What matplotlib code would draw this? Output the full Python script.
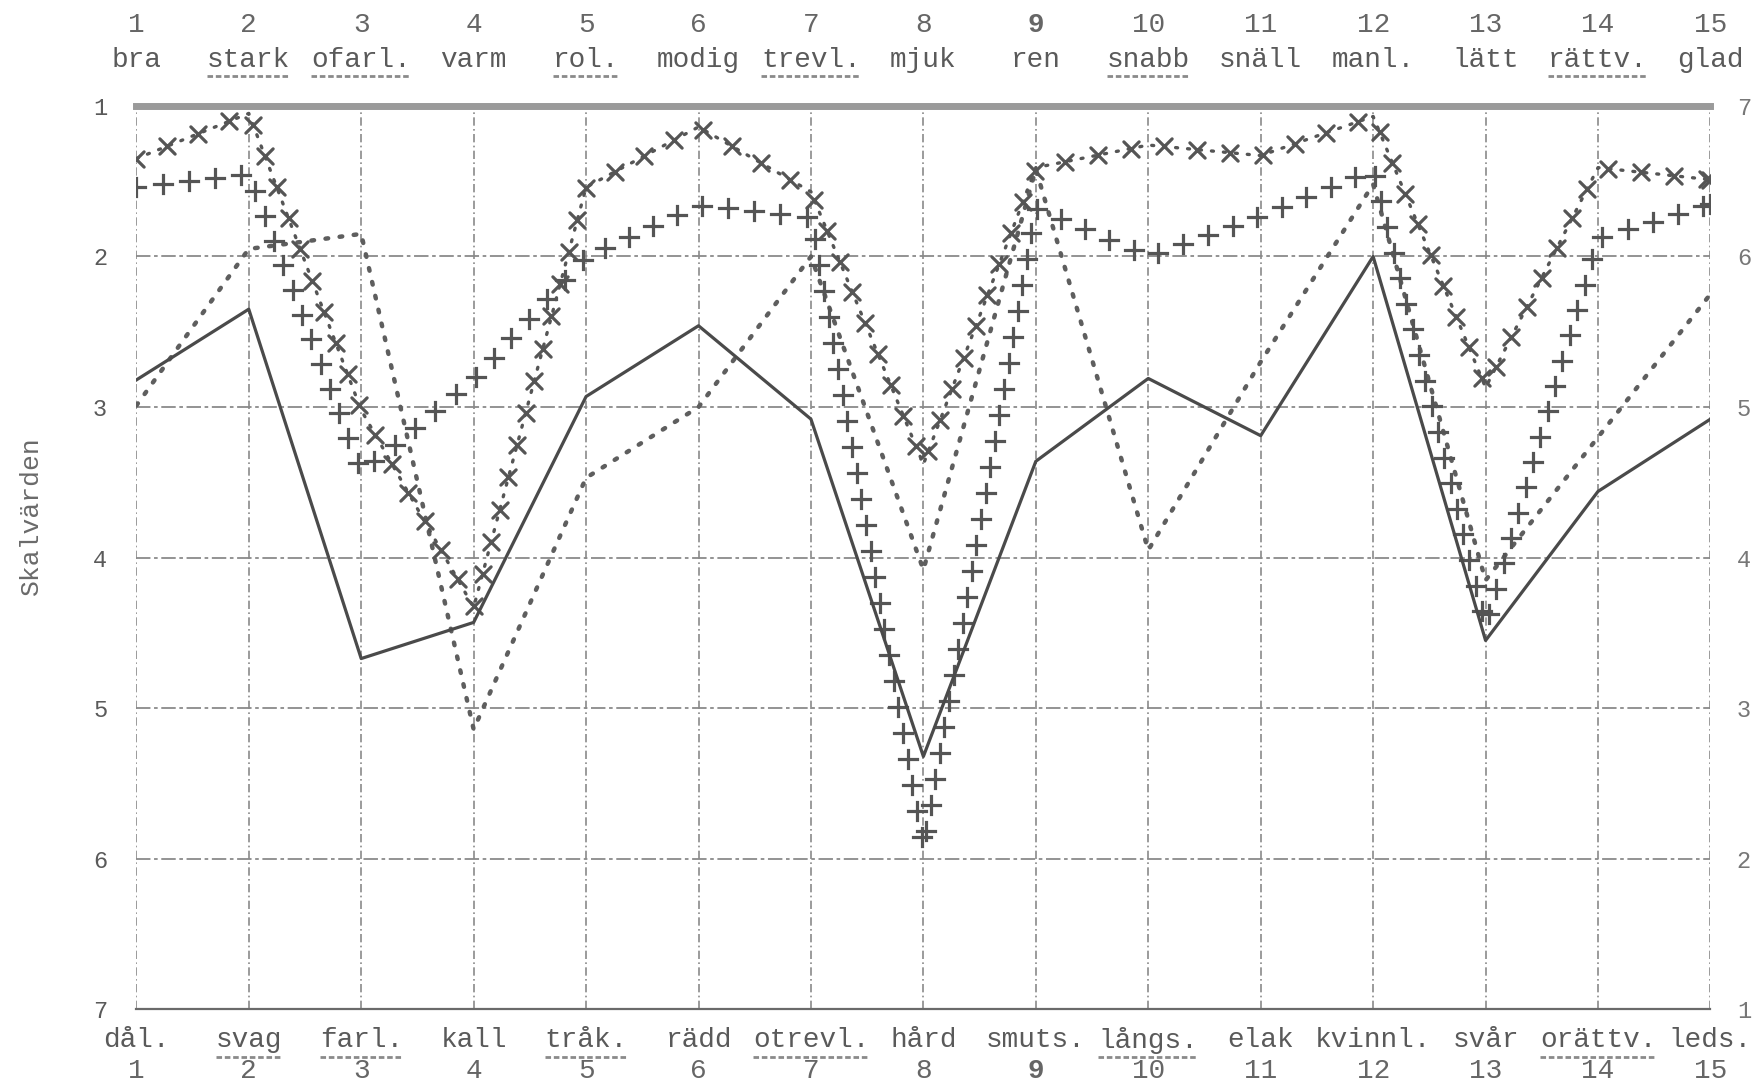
import numpy as np
import matplotlib
matplotlib.use("Agg")
import matplotlib.pyplot as plt
import matplotlib.transforms as mtransforms
from matplotlib.markers import MarkerStyle
from matplotlib.patheffects import AbstractPathEffect, Normal
from matplotlib.path import Path

# skalor 1-15, ord i överkant (7) och nederkant (1)
items = list(range(1, 16))
top_words = ["bra", "stark", "ofarl.", "varm", "rol.", "modig", "trevl.", "mjuk",
             "ren", "snabb", "snäll", "manl.", "lätt", "rättv.", "glad"]
bottom_words = ["dål.", "svag", "farl.", "kall", "tråk.", "rädd", "otrevl.", "hård",
                "smuts.", "långs.", "elak", "kvinnl.", "svår", "orättv.", "leds."]
underlined = [2, 3, 5, 7, 10, 14]

left_ticks = [1, 2, 3, 4, 5, 6, 7]
right_ticks = [7, 6, 5, 4, 3, 2, 1]

# profiler (skalvärden)
solid = [2.82, 2.35, 4.67, 4.43, 2.93, 2.46, 3.08, 5.32, 3.36, 2.81, 3.19, 2.00, 4.55, 3.56, 3.08]
dotted = [2.99, 1.95, 1.85, 5.14, 3.47, 3.00, 2.00, 4.08, 1.42, 3.95, 2.70, 1.52, 4.15, 3.20, 2.25]
crosses_x = [1.35, 1.05, 3.02, 4.33, 1.54, 1.14, 1.57, 3.38, 1.41, 1.26, 1.33, 1.07, 2.87, 1.41, 1.49]
crosses_plus = [1.54, 1.45, 3.43, 2.82, 2.00, 1.66, 1.74, 5.92, 1.68, 2.00, 1.73, 1.42, 4.45, 1.88, 1.65]

ink = "#5a5a5a"
mono = ["Liberation Mono", "DejaVu Sans Mono"]


class TypedMarks(AbstractPathEffect):
    """line style: repeats a typewriter sign along the drawn line"""

    def __init__(self, marker, step_pt, size_pt, lw):
        super().__init__()
        self.marker = MarkerStyle(marker)
        self.step_pt = step_pt
        self.size_pt = size_pt
        self.lw = lw

    def draw_path(self, renderer, gc, tpath, affine, rgbFace=None):
        xy = affine.transform(tpath.vertices)
        step = renderer.points_to_pixels(self.step_pt)
        pts = []
        carry = 0.0
        for (x0, y0), (x1, y1) in zip(xy[:-1], xy[1:]):
            seg = np.hypot(x1 - x0, y1 - y0)
            d = carry
            while d <= seg:
                t = d / seg if seg else 0
                pts.append((x0 + t * (x1 - x0), y0 + t * (y1 - y0)))
                d += step
            carry = d - seg
        pts.append(tuple(xy[-1]))
        gc0 = renderer.new_gc()
        gc0.copy_properties(gc)
        gc0.set_dashes(0, None)
        gc0.set_linewidth(self.lw)
        mtrans = self.marker.get_transform() + mtransforms.Affine2D().scale(
            renderer.points_to_pixels(self.size_pt))
        renderer.draw_markers(gc0, self.marker.get_path(), mtrans,
                              Path(np.array(pts)), mtransforms.IdentityTransform())
        gc0.restore()


fig = plt.figure(figsize=(17.59, 10.86), dpi=100)
ax = fig.add_axes([0.0775, 0.0705, 0.8949, 0.8320])
ax.set_xlim(1, 15)
ax.set_ylim(7, 1)

# rutnät
for x in items:
    ax.axvline(x, color="#8a8a8a", lw=1.2, ls=(0, (5, 2, 1, 2)), zorder=1)
for y in left_ticks:
    ax.axhline(y, color="#8a8a8a", lw=1.3, ls=(0, (8, 2, 2, 2)), zorder=1)

for s in ["left", "right"]:
    ax.spines[s].set_visible(False)
ax.spines["top"].set_color("#9a9a9a")
ax.spines["top"].set_linewidth(5)
ax.spines["bottom"].set_color("#6a6a6a")
ax.spines["bottom"].set_linewidth(1.6)

ax.plot(items, solid, color="#4a4a4a", lw=2.3, zorder=4)
ax.plot(items, dotted, color="#5e5e5e", lw=3.2, ls=(0, (0.6, 2.6)),
        dash_capstyle="round", zorder=3)
ax.plot(items, crosses_x, color="#555555", lw=2.4, ls=(0, (0.6, 3.0)),
        dash_capstyle="round", zorder=3,
        path_effects=[TypedMarks("x", 24, 11, 2.3), Normal()])
ax.plot(items, crosses_plus, color="#555555", lw=1,
        path_effects=[TypedMarks("+", 19, 13, 2.3)], zorder=3)

# skalvärden vänster och höger
ax.set_xticks([])
ax.set_yticks(left_ticks)
ax.set_yticklabels([str(v) for v in left_ticks], fontsize=17, color=ink,
                   family=mono)
ax.tick_params(axis="y", length=0, pad=21)
sec = ax.secondary_yaxis("right", functions=(lambda y: 8 - y, lambda y: 8 - y))
sec.set_yticks(right_ticks)
sec.set_yticklabels([str(v) for v in right_ticks], fontsize=17, color="#777777",
                    family=mono)
sec.tick_params(length=0, pad=19)
sec.spines["right"].set_visible(False)

fig.text(31 / 1759, 1 - 516 / 1086, "Skalvärden", rotation=90, ha="center",
         va="center", fontsize=19, color="#6a6a6a", family=mono)

tr = mtransforms.blended_transform_factory(ax.transData, fig.transFigure)
labels = []
for i, tw, bw in zip(items, top_words, bottom_words):
    w = "bold" if i == 9 else "normal"
    ax.text(i, 0.977, str(i), transform=tr, ha="center", va="center",
            fontsize=20, color="#666666", family=mono, weight=w)
    t1 = ax.text(i, 0.945, tw, transform=tr, ha="center", va="center",
                 fontsize=20, color=ink, family=mono)
    t2 = ax.text(i, 0.042, bw, transform=tr, ha="center", va="center",
                 fontsize=20, color=ink, family=mono)
    ax.text(i, 0.0135, str(i), transform=tr, ha="center", va="center",
            fontsize=20, color="#666666", family=mono, weight=w)
    if i in underlined:
        labels.append(t1)
        labels.append(t2)

fig.canvas.draw()
inv = fig.transFigure.inverted()
for t in labels:
    bb = t.get_window_extent()
    (x0, y0), (x1, _) = inv.transform([[bb.x0, bb.y0], [bb.x1, bb.y0]])
    fig.add_artist(plt.Line2D([x0, x1], [y0 - 0.003, y0 - 0.003], color="#8a8a8a",
                              lw=2, ls=(0, (2, 1)), transform=fig.transFigure))

fig.savefig("out.png", dpi=100, facecolor="white")
